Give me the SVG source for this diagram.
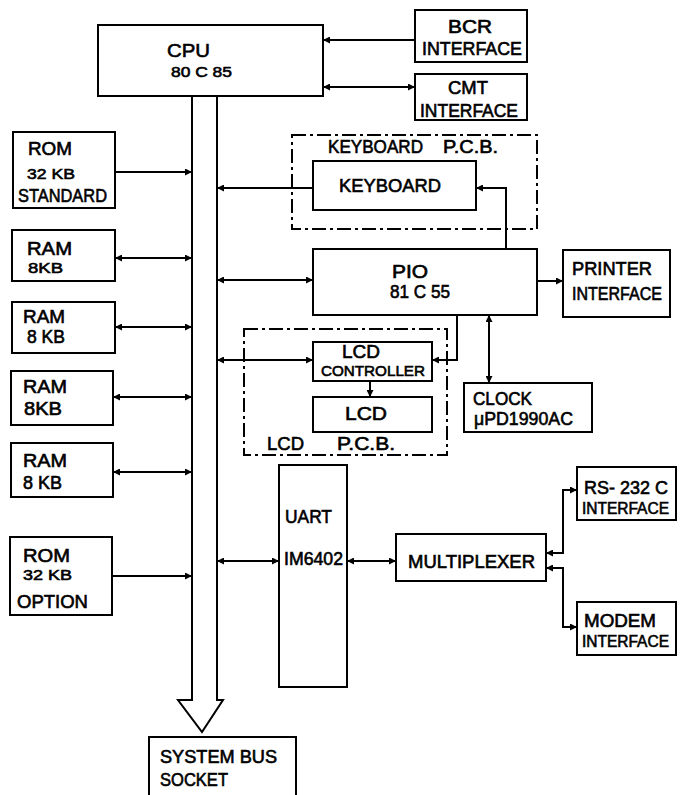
<svg xmlns="http://www.w3.org/2000/svg" width="680" height="795" viewBox="0 0 680 795">
<style>
.box{fill:#fff;stroke:#000;stroke-width:2}
.pcb{fill:none;stroke:#000;stroke-width:2;stroke-dasharray:14 4 3 4}
.ln{fill:none;stroke:#000;stroke-width:2}
.t{font-family:"Liberation Sans",Arial,sans-serif;font-size:18px;fill:#000;stroke:#000;stroke-width:0.6}
.s{font-size:15px}
.r{font-size:16px}
</style>
<defs>
<marker id="ah" viewBox="0 0 10 10" refX="10" refY="5" markerWidth="8" markerHeight="7" markerUnits="userSpaceOnUse" orient="auto-start-reverse">
<path d="M0,0 L10,5 L0,10 Z" fill="#000"/>
</marker>
</defs>
<rect width="680" height="795" fill="#fff"/>

<g id="system-bus">
<path class="box" d="M192,96 V700 H178 L202,732 L223,700 H217 V96"/>
</g>

<g id="cpu">
<rect class="box" x="98" y="25" width="225" height="71"/>
<text class="t" x="167" y="57" textLength="43" lengthAdjust="spacingAndGlyphs" style="font-size:19px">CPU</text>
<text class="t s" x="171" y="77" textLength="61" lengthAdjust="spacingAndGlyphs">80 C 85</text>
</g>

<g id="bcr">
<rect class="box" x="415" y="10" width="112" height="52"/>
<text class="t" x="448" y="33" textLength="44" lengthAdjust="spacingAndGlyphs">BCR</text>
<text class="t" x="422" y="55" textLength="100" lengthAdjust="spacingAndGlyphs">INTERFACE</text>
</g>

<g id="cmt">
<rect class="box" x="415" y="74" width="112" height="46"/>
<text class="t" x="448" y="94" textLength="40" lengthAdjust="spacingAndGlyphs">CMT</text>
<text class="t" x="420" y="117" textLength="98" lengthAdjust="spacingAndGlyphs">INTERFACE</text>
</g>

<g id="rom-standard">
<rect class="box" x="13" y="132" width="102" height="76"/>
<text class="t" x="28" y="155" textLength="44" lengthAdjust="spacingAndGlyphs">ROM</text>
<text class="t s" x="27" y="179" textLength="48" lengthAdjust="spacingAndGlyphs">32 KB</text>
<text class="t" x="18" y="202" textLength="89" lengthAdjust="spacingAndGlyphs">STANDARD</text>
</g>

<g id="ram1">
<rect class="box" x="12" y="230" width="103" height="51"/>
<text class="t" x="27" y="255" textLength="45" lengthAdjust="spacingAndGlyphs">RAM</text>
<text class="t s" x="28" y="273" textLength="35" lengthAdjust="spacingAndGlyphs">8KB</text>
</g>

<g id="ram2">
<rect class="box" x="12" y="302" width="103" height="51"/>
<text class="t" x="23" y="323" textLength="42" lengthAdjust="spacingAndGlyphs">RAM</text>
<text class="t" x="27" y="343" textLength="38" lengthAdjust="spacingAndGlyphs">8 KB</text>
</g>

<g id="ram3">
<rect class="box" x="11" y="371" width="102" height="54"/>
<text class="t" x="23" y="393" textLength="44" lengthAdjust="spacingAndGlyphs">RAM</text>
<text class="t" x="24" y="415" textLength="38" lengthAdjust="spacingAndGlyphs">8KB</text>
</g>

<g id="ram4">
<rect class="box" x="11" y="443" width="102" height="54"/>
<text class="t" x="23" y="467" textLength="44" lengthAdjust="spacingAndGlyphs">RAM</text>
<text class="t" x="23" y="489" textLength="39" lengthAdjust="spacingAndGlyphs">8 KB</text>
</g>

<g id="rom-option">
<rect class="box" x="10" y="537" width="102" height="78"/>
<text class="t" x="23" y="562" textLength="47" lengthAdjust="spacingAndGlyphs">ROM</text>
<text class="t s" x="23" y="580" textLength="49" lengthAdjust="spacingAndGlyphs">32 KB</text>
<text class="t" x="17" y="608" textLength="71" lengthAdjust="spacingAndGlyphs">OPTION</text>
</g>

<g id="keyboard-pcb">
<rect class="pcb" x="292" y="135" width="245" height="94"/>
<text class="t" x="328" y="153" textLength="95" lengthAdjust="spacingAndGlyphs">KEYBOARD</text>
<text class="t" x="443" y="153" textLength="55" lengthAdjust="spacingAndGlyphs">P.C.B.</text>
</g>

<g id="keyboard">
<rect class="box" x="313" y="161" width="163" height="49"/>
<text class="t" x="339" y="192" textLength="102" lengthAdjust="spacingAndGlyphs">KEYBOARD</text>
</g>

<g id="pio">
<rect class="box" x="313" y="249" width="224" height="66"/>
<text class="t" x="392" y="278" textLength="36" lengthAdjust="spacingAndGlyphs">PIO</text>
<text class="t" x="390" y="298" textLength="60" lengthAdjust="spacingAndGlyphs">81 C 55</text>
</g>

<g id="printer">
<rect class="box" x="563" y="250" width="107" height="67"/>
<text class="t" x="572" y="275" textLength="80" lengthAdjust="spacingAndGlyphs">PRINTER</text>
<text class="t" x="572" y="300" textLength="90" lengthAdjust="spacingAndGlyphs">INTERFACE</text>
</g>

<g id="clock">
<rect class="box" x="464" y="383" width="128" height="49"/>
<text class="t" x="473" y="405" textLength="59" lengthAdjust="spacingAndGlyphs">CLOCK</text>
<text class="t" x="474" y="425" textLength="99" lengthAdjust="spacingAndGlyphs">μPD1990AC</text>
</g>

<g id="lcd-pcb">
<rect class="pcb" x="244" y="329" width="203" height="126"/>
<text class="t" x="267" y="450" textLength="37" lengthAdjust="spacingAndGlyphs">LCD</text>
<text class="t" x="337" y="450" textLength="58" lengthAdjust="spacingAndGlyphs">P.C.B.</text>
</g>

<g id="lcd-controller">
<rect class="box" x="313" y="342" width="119" height="39"/>
<text class="t" x="342" y="358" textLength="38" lengthAdjust="spacingAndGlyphs">LCD</text>
<text class="t s" x="321" y="376" textLength="104" lengthAdjust="spacingAndGlyphs">CONTROLLER</text>
</g>

<g id="lcd">
<rect class="box" x="313" y="397" width="119" height="35"/>
<text class="t" x="345" y="420" textLength="42" lengthAdjust="spacingAndGlyphs">LCD</text>
</g>

<g id="uart">
<rect class="box" x="279" y="465" width="68" height="222"/>
<text class="t" x="285" y="523" textLength="47" lengthAdjust="spacingAndGlyphs">UART</text>
<text class="t" x="284" y="565" textLength="59" lengthAdjust="spacingAndGlyphs">IM6402</text>
</g>

<g id="multiplexer">
<rect class="box" x="396" y="534" width="150" height="47"/>
<text class="t" x="408" y="568" textLength="127" lengthAdjust="spacingAndGlyphs">MULTIPLEXER</text>
</g>

<g id="rs232c">
<rect class="box" x="577" y="467" width="99" height="53"/>
<text class="t" x="584" y="494" textLength="84" lengthAdjust="spacingAndGlyphs">RS- 232 C</text>
<text class="t r" x="582" y="514" textLength="87" lengthAdjust="spacingAndGlyphs">INTERFACE</text>
</g>

<g id="modem">
<rect class="box" x="577" y="602" width="99" height="53"/>
<text class="t" x="584" y="627" textLength="72" lengthAdjust="spacingAndGlyphs">MODEM</text>
<text class="t r" x="582" y="647" textLength="87" lengthAdjust="spacingAndGlyphs">INTERFACE</text>
</g>

<g id="system-bus-socket">
<rect class="box" x="149" y="737" width="147" height="70"/>
<text class="t" x="160" y="763" textLength="117" lengthAdjust="spacingAndGlyphs">SYSTEM BUS</text>
<text class="t" x="160" y="786" textLength="68" lengthAdjust="spacingAndGlyphs">SOCKET</text>
</g>

<g id="connectors">
<path class="ln" d="M415,40 H323" marker-end="url(#ah)"/>
<path class="ln" d="M323,87 H415" marker-start="url(#ah)" marker-end="url(#ah)"/>
<path class="ln" d="M115,172 H192" marker-end="url(#ah)"/>
<path class="ln" d="M115,258 H192" marker-start="url(#ah)" marker-end="url(#ah)"/>
<path class="ln" d="M115,327 H192" marker-start="url(#ah)" marker-end="url(#ah)"/>
<path class="ln" d="M113,397 H192" marker-start="url(#ah)" marker-end="url(#ah)"/>
<path class="ln" d="M113,472 H192" marker-start="url(#ah)" marker-end="url(#ah)"/>
<path class="ln" d="M112,576 H192" marker-end="url(#ah)"/>
<path class="ln" d="M313,188 H217" marker-end="url(#ah)"/>
<path class="ln" d="M476,188 H506 V249" marker-start="url(#ah)"/>
<path class="ln" d="M217,280 H313" marker-start="url(#ah)" marker-end="url(#ah)"/>
<path class="ln" d="M537,281 H563" marker-end="url(#ah)"/>
<path class="ln" d="M489,315 V383" marker-start="url(#ah)" marker-end="url(#ah)"/>
<path class="ln" d="M457,315 V360 H432" marker-end="url(#ah)"/>
<path class="ln" d="M217,360 H313" marker-start="url(#ah)" marker-end="url(#ah)"/>
<path class="ln" d="M370,381 V397" marker-end="url(#ah)"/>
<path class="ln" d="M217,561 H279" marker-start="url(#ah)" marker-end="url(#ah)"/>
<path class="ln" d="M347,561 H396" marker-start="url(#ah)" marker-end="url(#ah)"/>
<path class="ln" d="M546,553 H563 V490 H577" marker-start="url(#ah)" marker-end="url(#ah)"/>
<path class="ln" d="M546,568 H563 V627 H577" marker-start="url(#ah)" marker-end="url(#ah)"/>
</g>
</svg>
